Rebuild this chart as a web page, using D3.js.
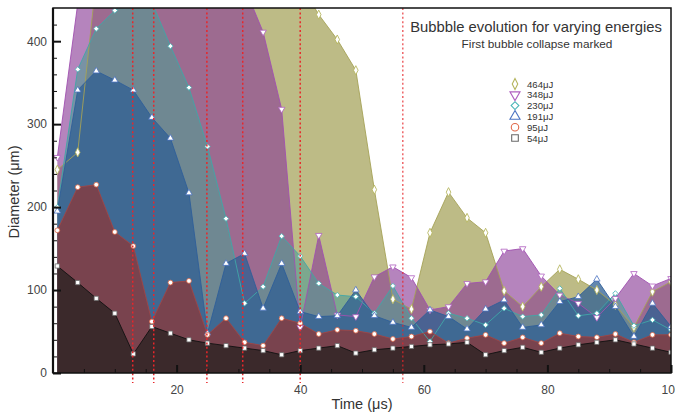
<!DOCTYPE html>
<html>
<head>
<meta charset="utf-8">
<script src="https://cdn.jsdelivr.net/npm/d3@7"></script>
<style>
  body { margin: 0; background: #fff; }
  svg { display: block; font-family: "Liberation Sans", Arial, sans-serif; }
</style>
</head>
<body>
<div id="chart"></div>
<script>
// sample times (μs)
const time = [0.7, 4, 7, 10, 13, 16, 19, 22, 25, 28, 31, 34, 37, 40, 43, 46, 49, 52,
  55, 58, 61, 64, 67, 70, 73, 76, 79, 82, 85, 88, 91, 94, 97, 100];

const energies = ['464μJ', '348μJ', '230μJ', '191μJ', '95μJ', '54μJ'];

// bubble diameter (μm) per energy, values above 440 run off the top of the plot
const d464 = [245, 266, 475, 520, 540, 550, 555, 555, 550, 545, 535, 520, 500, 470, 432, 402, 365, 221,
  89, 77, 169, 218, 187, 169, 99, 80, 104, 125, 113, 100, 82, 55, 98, 110];
const d348 = [260, 445, 500, 520, 530, 530, 530, 525, 515, 500, 465, 411, 318, 55, 166, 70, 68, 116,
  128, 115, 76, 80, 108, 110, 147, 150, 117, 94, 84, 67, 90, 120, 105, 114];
const d230 = [200, 366, 415, 437, 450, 447, 394, 344, 273, 186, 84, 104, 165, 141, 108, 94, 92, 72,
  105, 66, 38, 72, 66, 58, 78, 68, 70, 102, 69, 72, 96, 57, 64, 52];
const d191 = [195, 341, 364, 353, 341, 308, 283, 217, 48, 132, 144, 78, 132, 74, 68, 69, 100, 69,
  61, 55, 76, 68, 53, 77, 88, 55, 58, 86, 92, 113, 80, 44, 84, 56];
const d95 = [172, 224, 227, 170, 153, 62, 109, 111, 46, 66, 37, 33, 66, 60, 47, 52, 51, 47,
  41, 44, 50, 36, 42, 46, 36, 43, 36, 48, 44, 43, 47, 37, 46, 46];
const d54 = [129, 109, 90, 72, 23, 56, 48, 40, 36, 33, 30, 27, 22, 27, 30, 33, 24, 28,
  30, 32, 34, 35, 37, 22, 27, 31, 25, 30, 34, 37, 40, 35, 30, 25];

// first bubble collapse (μs) for each energy, lowest energy first
const collapseTimes = [12.9, 16.3, 24.9, 30.7, 40.0, 56.6];

const xTicks = [20, 40, 60, 80, 100];
const yTicks = [0, 100, 200, 300, 400];

const seriesValues = [d464, d348, d230, d191, d95, d54];

// styles, back to front
const fills = ['#bdbb86', '#8a3c97', '#509b94', '#2f5f93', '#8d3737', '#342728'];
const fillOpacity = [1, 0.63, 0.6, 0.75, 0.75, 0.9];
const strokes = ['#a5a256', '#a050b0', '#3fa7a8', '#2f5f9a', '#a04545', '#111111'];
const legendColours = ['#b4b45c', '#b060c0', '#4cb6b8', '#4a72c2', '#e06848', '#6a6a6a'];
const symbols = [d3.symbolDiamond, d3.symbolTriangle, d3.symbolSquare, d3.symbolTriangle, d3.symbolCircle, d3.symbolSquare];
const symbolTransform = ['scale(1,1.15)', 'rotate(180)', 'rotate(45)', '', '', ''];
const legendSizes = [26, 44, 30, 44, 44, 44];

const svg = d3.select('#chart')
  .append('svg')
  .attr('width', 675)
  .attr('height', 412);

const x = d3.scaleLinear().domain([0, 100]).range([53, 671]);
const y = d3.scaleLinear().domain([0, 440]).range([373, 8]);

svg.append('clipPath')
  .attr('id', 'plot-clip')
  .append('rect')
  .attr('x', x(0))
  .attr('y', y(440))
  .attr('width', x(100) - x(0))
  .attr('height', y(0) - y(440));

const plot = svg.append('g').attr('clip-path', 'url(#plot-clip)');

const area = d3.area()
  .x((d, i) => x(time[i]))
  .y0(y(0))
  .y1(d => y(d));

const line = d3.line()
  .x((d, i) => x(time[i]))
  .y(d => y(d));

seriesValues.forEach((values, s) => {
  plot.append('path')
    .attr('d', area(values))
    .attr('fill', fills[s])
    .attr('fill-opacity', fillOpacity[s]);
});

seriesValues.forEach((values, s) => {
  plot.append('path')
    .attr('d', line(values))
    .attr('fill', 'none')
    .attr('stroke', strokes[s])
    .attr('stroke-width', 0.9);
});

// markers on top of everything
seriesValues.forEach((values, s) => {
  const sym = d3.symbol().type(symbols[s]).size(s === 2 ? 14 : 18);
  plot.append('g')
    .selectAll('path')
    .data(values)
    .join('path')
    .attr('transform', (d, i) => `translate(${x(time[i])},${y(d)}) ${symbolTransform[s]}`)
    .attr('d', sym)
    .attr('fill', '#fff')
    .attr('stroke', legendColours[s])
    .attr('stroke-width', 0.8);
});

// collapse markers
svg.append('g')
  .selectAll('line')
  .data(collapseTimes)
  .join('line')
  .attr('x1', d => x(d))
  .attr('x2', d => x(d))
  .attr('y1', y(440))
  .attr('y2', y(0) + 10)
  .attr('stroke', '#e8262a')
  .attr('stroke-width', 1.5)
  .attr('stroke-dasharray', '2,2.4')
  .attr('opacity', (d, i) => (i === collapseTimes.length - 1 ? 0.7 : 1));

// axes
const minorX = d3.range(5, 100, 5).filter(v => v % 20 !== 0);
const minorY = d3.range(20, 440, 20).filter(v => v % 100 !== 0);
const font = '"Liberation Sans", Arial, sans-serif';

svg.append('g')
  .attr('transform', `translate(0,${y(0)})`)
  .call(d3.axisBottom(x).tickValues(minorX).tickSize(-4).tickFormat(''))
  .call(g => g.select('.domain').remove())
  .call(g => g.selectAll('line').attr('stroke', '#111').attr('stroke-width', 1));

svg.append('g')
  .attr('transform', `translate(0,${y(0)})`)
  .call(d3.axisBottom(x).tickValues(xTicks).tickSize(-8).tickPadding(12))
  .call(g => g.select('.domain').remove())
  .call(g => g.selectAll('line').attr('stroke', '#111').attr('stroke-width', 2))
  .call(g => g.selectAll('text').attr('font-size', 12).attr('fill', '#444').attr('font-family', font));

svg.append('g')
  .attr('transform', `translate(${x(0)},0)`)
  .call(d3.axisLeft(y).tickValues(minorY).tickSize(-4).tickFormat(''))
  .call(g => g.select('.domain').remove())
  .call(g => g.selectAll('line').attr('stroke', '#111').attr('stroke-width', 1));

svg.append('g')
  .attr('transform', `translate(${x(0)},0)`)
  .call(d3.axisLeft(y).tickValues(yTicks).tickSize(-8).tickPadding(6))
  .call(g => g.select('.domain').remove())
  .call(g => g.selectAll('line').attr('stroke', '#111').attr('stroke-width', 2))
  .call(g => g.selectAll('text').attr('font-size', 12).attr('fill', '#444').attr('font-family', font));

// frame
svg.append('rect')
  .attr('x', x(0))
  .attr('y', y(440))
  .attr('width', x(100) - x(0))
  .attr('height', y(0) - y(440))
  .attr('fill', 'none')
  .attr('stroke', '#111')
  .attr('stroke-width', 1.5);

svg.append('line')
  .attr('x1', x(0)).attr('x2', x(0))
  .attr('y1', y(440)).attr('y2', y(0))
  .attr('stroke', '#111')
  .attr('stroke-width', 2.2);

// axis titles
svg.append('text')
  .attr('x', 362)
  .attr('y', 409)
  .attr('text-anchor', 'middle')
  .attr('font-size', 14.5)
  .attr('fill', '#333')
  .text('Time (μs)');

svg.append('text')
  .attr('transform', 'translate(19,192) rotate(-90)')
  .attr('text-anchor', 'middle')
  .attr('font-size', 14.5)
  .attr('fill', '#333')
  .text('Diameter (μm)');

// title
svg.append('text')
  .attr('x', 536)
  .attr('y', 32)
  .attr('text-anchor', 'middle')
  .attr('font-size', 14.8)
  .attr('fill', '#333')
  .text('Bubbble evolution for varying energies');

svg.append('text')
  .attr('x', 537)
  .attr('y', 48)
  .attr('text-anchor', 'middle')
  .attr('font-size', 11.8)
  .attr('fill', '#333')
  .text('First bubble collapse marked');

// legend
const legend = svg.append('g').attr('transform', 'translate(515,84)');
energies.forEach((name, s) => {
  const row = legend.append('g').attr('transform', `translate(0,${s * 10.8})`);
  row.append('path')
    .attr('transform', symbolTransform[s])
    .attr('d', d3.symbol().type(symbols[s]).size(legendSizes[s])())
    .attr('fill', '#fff')
    .attr('stroke', legendColours[s])
    .attr('stroke-width', 1.1);
  row.append('text')
    .attr('x', 12)
    .attr('y', 3.6)
    .attr('font-size', 9.6)
    .attr('fill', '#333')
    .text(name);
});
</script>
</body>
</html>
